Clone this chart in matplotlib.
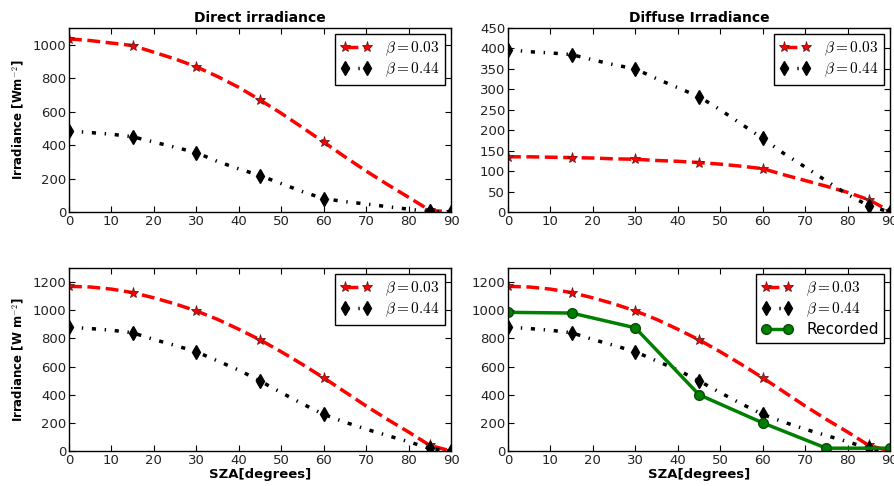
import matplotlib
matplotlib.use('Agg')
import matplotlib.pyplot as plt

plt.rcParams.update({'font.family': 'DejaVu Sans', 'mathtext.fontset': 'cm'})

# SZA sampled every 5 degrees; markers drawn at these indices
sza = [0, 5, 10, 15, 20, 25, 30, 35, 40, 45, 50, 55, 60, 65, 70, 75, 80, 85, 90]
mark_idx = [0, 3, 6, 9, 12, 17, 18]

# Direct irradiance
direct_003 = [1035, 1025, 1010, 995, 955, 915, 868, 810, 745, 670, 590, 505, 418, 330, 245, 165, 88, 10, 0]
direct_044 = [485, 475, 465, 450, 418, 387, 355, 302, 258, 218, 170, 122, 80, 62, 48, 32, 17, 3, 0]

# Diffuse irradiance
diffuse_003 = [135, 135, 134, 133, 132, 130, 129, 126, 124, 121, 117, 112, 106, 91, 77, 63, 48, 30, 2]
diffuse_044 = [397, 392, 389, 385, 372, 360, 350, 326, 304, 282, 250, 215, 180, 143, 110, 76, 43, 15, 0]

# Global irradiance
global_003 = [1170, 1165, 1150, 1125, 1088, 1045, 995, 935, 865, 790, 705, 615, 520, 420, 320, 225, 135, 40, 0]
global_044 = [880, 870, 858, 840, 792, 750, 705, 640, 575, 498, 415, 335, 260, 205, 155, 110, 66, 18, 0]

# Recorded
rec_sza = [0, 15, 30, 45, 60, 75, 90]
recorded = [985, 980, 875, 400, 200, 20, 20]

W, H = 894, 486
fig = plt.figure(figsize=(W / 100, H / 100), dpi=100)
fig.set_facecolor('white')

lefts = [69, 508]
tops = [28, 268]
bottoms = [212, 451]
aw = 382

axes = []
for r in range(2):
    for c in range(2):
        ax = fig.add_axes([lefts[c] / W, 1 - bottoms[r] / H, aw / W, (bottoms[r] - tops[r]) / H])
        axes.append(ax)


def draw_pair(ax, y1, y2):
    ax.plot(sza, y1, color='red', ls='--', lw=2.5, marker='*', markersize=8,
            markerfacecolor='red', markeredgecolor='#6b1a1a', markeredgewidth=0.6,
            markevery=mark_idx, label=r'$\beta=0.03$')
    ax.plot(sza, y2, color='black', ls=(0, (1.2, 2.5, 0.4, 2.5)), lw=2.5, marker='d', markersize=7,
            markerfacecolor='black', markevery=mark_idx, label=r'$\beta=0.44$')


draw_pair(axes[0], direct_003, direct_044)
draw_pair(axes[1], diffuse_003, diffuse_044)
draw_pair(axes[2], global_003, global_044)
draw_pair(axes[3], global_003, global_044)
axes[3].plot(rec_sza, recorded, color='green', lw=2.5, marker='o', markersize=7,
             markerfacecolor='green', markeredgecolor='#0a4a0a', label='Recorded')

ylims = [(0, 1100), (0, 450), (0, 1300), (0, 1300)]
yticks = [range(0, 1001, 200), range(0, 451, 50), range(0, 1201, 200), range(0, 1201, 200)]
for ax, yl, yt in zip(axes, ylims, yticks):
    ax.set_xlim(0, 90)
    ax.set_ylim(*yl)
    ax.set_xticks(range(0, 91, 10))
    ax.set_yticks(list(yt))
    ax.tick_params(direction='in', top=True, right=True, labelsize=9.5, length=4, pad=2,
                   colors='black', labelcolor='#222222')
    for s in ax.spines.values():
        s.set_linewidth(1.0)
    leg = ax.legend(loc='upper right', numpoints=2, fancybox=False, framealpha=1,
                    edgecolor='black', fontsize=11, handlelength=2.0, borderpad=0.35,
                    labelspacing=0.2, handletextpad=0.9, borderaxespad=0.4)
    leg.get_frame().set_linewidth(1.0)

axes[0].set_title('Direct irradiance', fontweight='bold', fontsize=10, pad=4)
axes[1].set_title('Diffuse Irradiance', fontweight='bold', fontsize=10, pad=4)
axes[0].set_ylabel('Irradiance [Wm$^{-2}$]', fontweight='bold', fontsize=8.5, labelpad=4)
axes[2].set_ylabel('Irradiance [W m$^{-2}$]', fontweight='bold', fontsize=8.5, labelpad=4)
axes[2].set_xlabel('SZA[degrees]', fontweight='bold', fontsize=9.5, labelpad=1)
axes[3].set_xlabel('SZA[degrees]', fontweight='bold', fontsize=9.5, labelpad=1)

fig.savefig('out.png', dpi=100, facecolor='white')
